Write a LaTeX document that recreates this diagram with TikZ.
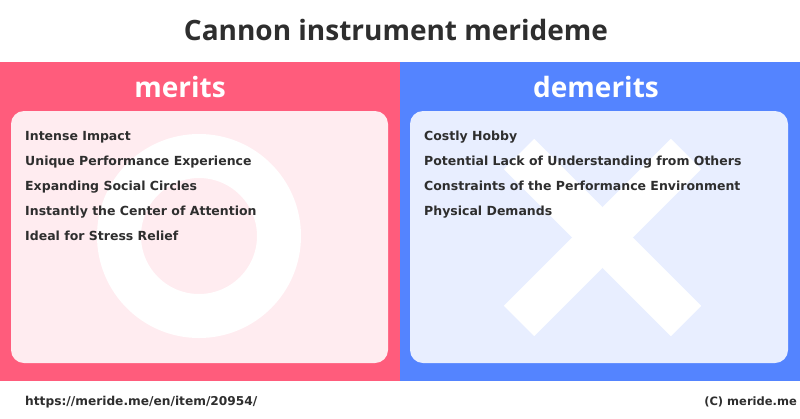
\documentclass[tikz,border=0pt]{standalone}
\usepackage{fontspec}
\setmainfont{DejaVu Sans}
\newfontfamily\headfont{Open Sans}
\definecolor{meritred}{HTML}{FF5C7C}
\definecolor{demeritblue}{HTML}{5484FF}
\definecolor{meritcard}{HTML}{FFECF0}
\definecolor{demeritcard}{HTML}{E8EEFF}
\definecolor{inktext}{HTML}{2E2E2E}
\tikzset{
  headtext/.style={text=white, font=\headfont\bfseries\fontsize{28}{30}\selectfont},
  itemtext/.style={anchor=base west, inner sep=0pt, text=inktext, font=\bfseries\fontsize{12.5}{15}\selectfont},
  cardbox/.style={rounded corners=13pt},
  crossarm/.style={white, line width=43pt}
}
\begin{document}
\begin{tikzpicture}[x=1pt, y=-1pt]
  \useasboundingbox (0,0) rectangle (800,418);
  \fill[white] (0,0) rectangle (800,418);
  \fill[meritred] (0,62) rectangle (400,381);
  \fill[demeritblue] (400,62) rectangle (800,381);
  \fill[meritcard, cardbox] (11,111) rectangle (388,363);
  \fill[demeritcard, cardbox] (410,111) rectangle (788,363);

  % big marks behind the lists
  \draw[white, line width=44pt] (199,236) circle (80);
  \draw[crossarm] (519,154) -- (686,321);
  \draw[crossarm] (686,154) -- (519,321);

  \node[text=inktext, font=\headfont\bfseries\fontsize{28}{30}\selectfont] (title) at (396,30) {Cannon instrument merideme};
  \node[headtext] (merits) at (180,87) {merits};
  \node[headtext] (demerits) at (596,87) {demerits};

  \foreach \txt [count=\i] in {Intense Impact, Unique Performance Experience, Expanding Social Circles, Instantly the Center of Attention, Ideal for Stress Relief}
    \node[itemtext] (merit\i) at (25,115+25*\i) {\txt};
  \foreach \txt [count=\i] in {Costly Hobby, Potential Lack of Understanding from Others, Constraints of the Performance Environment, Physical Demands}
    \node[itemtext] (demerit\i) at (424,115+25*\i) {\txt};

  \node[itemtext, font=\bfseries\fontsize{12.2}{15}\selectfont] (url) at (25,405) {https://meride.me/en/item/20954/};
  \node[itemtext, anchor=base east, font=\bfseries\fontsize{11.5}{15}\selectfont] (credit) at (797,405) {(C) meride.me};
\end{tikzpicture}
\end{document}
